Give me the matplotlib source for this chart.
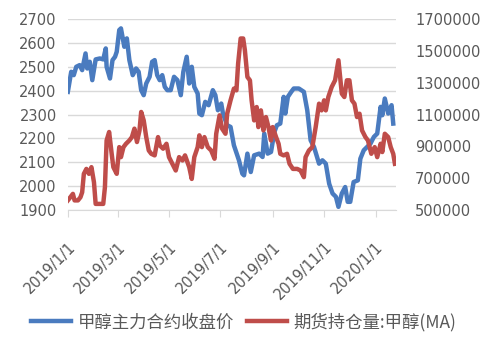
import matplotlib
matplotlib.use("Agg")
import matplotlib.pyplot as plt
import matplotlib.transforms as mtransforms
from matplotlib.ticker import FuncFormatter
import numpy as np
import pandas as pd

# day offsets from 2019-01-01 and values
price_days = [0, 4, 7, 10, 14, 17, 21, 23, 26, 29, 33, 38, 42, 45, 46, 50, 53, 56, 58, 61,
              63, 67, 70, 73, 77, 81, 84, 87, 90, 93, 97, 100, 103, 106, 109, 112, 115, 118,
              122, 126, 130, 134, 137, 141, 144, 147, 150, 154, 156, 159, 163, 167, 172, 175,
              178, 182, 184, 189, 193, 197, 203, 207, 209, 213, 217, 221, 227, 231, 233, 237,
              241, 245, 248, 252, 256, 258, 261, 265, 268, 274, 280, 284, 288, 292, 298, 302,
              306, 310, 314, 318, 321, 325, 329, 332, 335, 339, 344, 347, 351, 355, 359, 363,
              367, 371, 373, 376, 380, 384, 386]
price = [2395, 2479, 2465, 2500, 2507, 2486, 2556, 2493, 2521, 2444, 2531, 2535, 2531, 2577,
         2500, 2451, 2528, 2542, 2563, 2654, 2661, 2584, 2619, 2528, 2465, 2493, 2479, 2402,
         2381, 2430, 2458, 2521, 2528, 2465, 2444, 2465, 2416, 2402, 2402, 2458, 2444, 2381,
         2479, 2542, 2430, 2500, 2416, 2388, 2304, 2297, 2353, 2339, 2402, 2381, 2318, 2346,
         2304, 2255, 2248, 2171, 2108, 2052, 2045, 2136, 2059, 2129, 2136, 2122, 2220, 2136,
         2143, 2227, 2255, 2262, 2374, 2304, 2374, 2395, 2409, 2409, 2395, 2318, 2192, 2164,
         2094, 2108, 2094, 2010, 1969, 1955, 1913, 1969, 1996, 1934, 1934, 2017, 2024, 2115,
         2150, 2164, 2178, 2206, 2220, 2332, 2297, 2367, 2304, 2339, 2262]

oi_days = [0, 3, 6, 8, 12, 15, 17, 19, 22, 25, 28, 31, 33, 38, 42, 44, 46, 49, 52, 54, 58,
           61, 63, 66, 69, 73, 76, 79, 82, 85, 87, 90, 93, 96, 99, 103, 107, 109, 113, 117,
           120, 124, 128, 132, 136, 139, 144, 147, 150, 154, 156, 159, 162, 166, 170, 174,
           176, 180, 183, 187, 189, 193, 197, 200, 202, 205, 208, 210, 213, 216, 218, 221,
           224, 226, 229, 232, 235, 238, 241, 243, 247, 250, 252, 256, 260, 263, 267, 272,
           276, 280, 282, 286, 290, 294, 298, 301, 304, 306, 309, 313, 317, 321, 323, 325,
           328, 331, 334, 337, 340, 343, 346, 349, 353, 356, 360, 364, 367, 371, 373, 376,
           380, 383, 386, 388]
oi = [560000, 580000, 601000, 560000, 560000, 580000, 611000, 727000, 758000, 727000, 769000,
      674000, 538000, 538000, 538000, 643000, 937000, 990000, 853000, 769000, 727000, 895000,
      832000, 895000, 916000, 937000, 958000, 1011000, 927000, 1000000, 1116000, 1063000,
      958000, 874000, 853000, 843000, 958000, 906000, 885000, 916000, 832000, 790000, 748000,
      832000, 811000, 843000, 769000, 695000, 832000, 895000, 969000, 895000, 958000, 895000,
      874000, 822000, 979000, 1095000, 1011000, 979000, 1105000, 1189000, 1263000, 1252000,
      1420000, 1578000, 1578000, 1505000, 1336000, 1315000, 1189000, 1063000, 1147000,
      1021000, 1126000, 1000000, 1084000, 1021000, 937000, 1021000, 958000, 916000, 853000,
      843000, 853000, 790000, 758000, 758000, 748000, 706000, 832000, 874000, 895000,
      1021000, 1168000, 1126000, 1189000, 1126000, 1210000, 1273000, 1315000, 1441000,
      1336000, 1231000, 1210000, 1315000, 1315000, 1189000, 1168000, 1084000, 1105000,
      1000000, 958000, 937000, 853000, 895000, 832000, 916000, 864000, 979000, 958000,
      895000, 853000, 790000]

tick_dates = ["2019-01-01", "2019-03-01", "2019-05-01", "2019-07-01", "2019-09-01",
              "2019-11-01", "2020-01-01"]
tick_labels = ["2019/1/1", "2019/3/1", "2019/5/1", "2019/7/1", "2019/9/1",
               "2019/11/1", "2020/1/1"]
left_ticks = [1900, 2000, 2100, 2200, 2300, 2400, 2500, 2600, 2700]
right_ticks = [500000, 700000, 900000, 1100000, 1300000, 1500000, 1700000]
labels = ["甲醇主力合约收盘价", "期货持仓量:甲醇(MA)"]

start = pd.Timestamp("2019-01-01")
price_x = start + pd.to_timedelta(price_days, unit="D")
oi_x = start + pd.to_timedelta(oi_days, unit="D")

blue = "#4a7bbf"
red = "#bf4d4a"
grey = "#595959"

fig = plt.figure(figsize=(4.88, 3.47), dpi=100)
ax = fig.add_axes([0.139, 0.395, 0.672, 0.55])
ax2 = ax.twinx()

l1, = ax.plot(price_x, price, color=blue, lw=3.2, solid_joinstyle="round")
l2, = ax2.plot(oi_x, oi, color=red, lw=3.2, solid_joinstyle="round")

ax.set_ylim(1900, 2700)
ax.set_yticks(left_ticks)
ax2.set_ylim(500000, 1700000)
ax2.set_yticks(right_ticks)
ax2.yaxis.set_major_formatter(FuncFormatter(lambda v, p: f"{v:.0f}"))
ax.set_xlim(start, start + pd.Timedelta(days=389))
ax.set_xticks(pd.to_datetime(tick_dates))
ax.set_xticklabels(tick_labels, rotation=45, ha="right", rotation_mode="anchor")
shift = mtransforms.ScaledTranslation(4 / 100, 0, fig.dpi_scale_trans)
for lab in ax.get_xticklabels():
    lab.set_transform(lab.get_transform() + shift)

ax.grid(axis="y", color="#d9d9d9", lw=1)
ax.set_axisbelow(True)
for a in (ax, ax2):
    for s in ("left", "right", "top"):
        a.spines[s].set_visible(False)
ax.spines["bottom"].set_visible(False)
ax2.spines["bottom"].set_color("#d9d9d9")

ax.tick_params(axis="y", length=0, labelsize=10.5, labelcolor=grey, pad=8)
ax2.tick_params(axis="y", length=0, labelsize=10.5, labelcolor=grey, pad=14)
ax.tick_params(axis="x", length=5, color="#d9d9d9", labelsize=10.5, labelcolor=grey, pad=16)

fig.legend([l1, l2], labels, loc="center", bbox_to_anchor=(0.5, 0.072), ncol=2,
           frameon=False, handlelength=2.3, handletextpad=0.4, columnspacing=0.7,
           prop={"family": ["Noto Sans CJK SC", "DejaVu Sans"], "size": 12.5},
           labelcolor=grey)

fig.savefig("out.png", dpi=100)
